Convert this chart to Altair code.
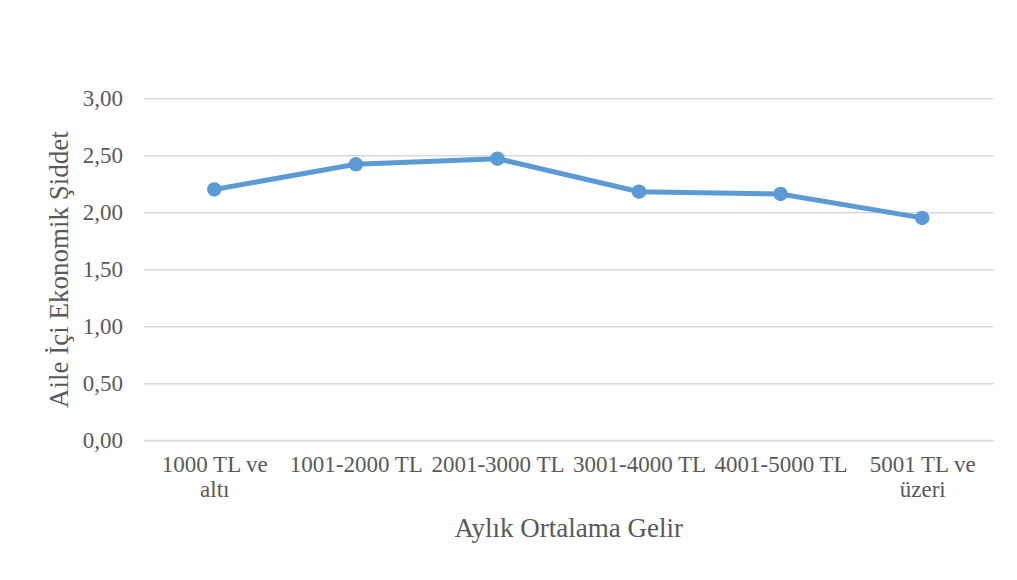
import altair as alt
import pandas as pd

categories = ["1000 TL ve\naltı", "1001-2000 TL", "2001-3000 TL", "3001-4000 TL", "4001-5000 TL", "5001 TL ve\nüzeri"]
values = [2.20, 2.42, 2.47, 2.18, 2.16, 1.95]
y_ticks = [0, 0.5, 1.0, 1.5, 2.0, 2.5, 3.0]

df = pd.DataFrame({"gelir": categories, "siddet": values})

FONT = "Liberation Serif"
GREY = "#595959"
BLUE = "#5B9BD5"

x = alt.X("gelir:N", sort=categories, title="Aylık Ortalama Gelir",
          scale=alt.Scale(paddingInner=0, paddingOuter=0.5),
          axis=alt.Axis(labelAngle=0, labelExpr="split(datum.label, '\\n')",
                        labelFont=FONT, labelFontSize=23, labelColor=GREY,
                        labelPadding=13, labelLineHeight=25, ticks=False,
                        domain=True, domainColor="#D9D9D9", domainWidth=1.5,
                        titlePadding=14, grid=False))
y = alt.Y("siddet:Q", title="Aile İçi Ekonomik Şiddet",
          scale=alt.Scale(domain=[0, 3]),
          axis=alt.Axis(values=y_ticks,
                        labelExpr="replace(format(datum.value, '.2f'), '.', ',')",
                        labelFont=FONT, labelFontSize=23, labelColor=GREY,
                        labelPadding=21, ticks=False, domain=False,
                        gridColor="#D9D9D9", gridWidth=1.5,
                        titlePadding=9))

line = alt.Chart(df).mark_line(color=BLUE, strokeWidth=5).encode(x=x, y=y)
pts = alt.Chart(df).mark_point(color=BLUE, filled=True, opacity=1, size=210).encode(x=x, y=y)

chart = (line + pts).properties(
    width=849.5, height=341.7,
    autosize=alt.AutoSizeParams(type="none"),
    padding={"left": 135.5, "top": 90.3, "right": 14, "bottom": 130},
).configure(
    background="white", font=FONT,
).configure_view(stroke=None).configure_axis(
    labelFont=FONT, labelFontSize=23, labelColor=GREY,
    titleFont=FONT, titleFontSize=27, titleColor=GREY, titleFontWeight="normal",
)

chart.save("out.html", embed_options={"renderer": "svg", "actions": False})
